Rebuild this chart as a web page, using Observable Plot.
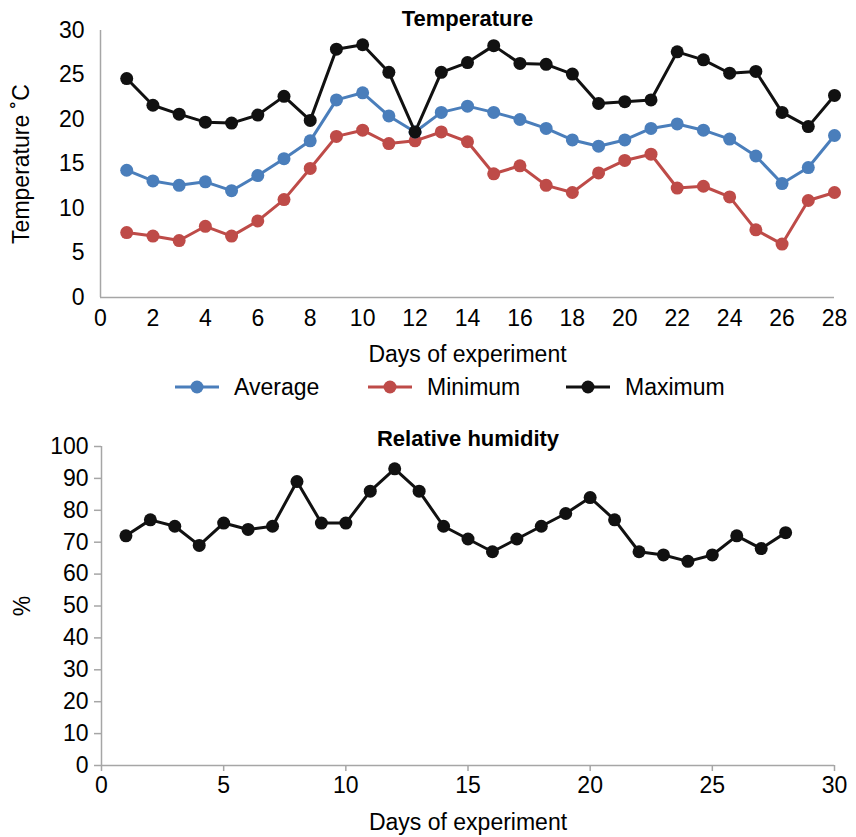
<!DOCTYPE html>
<html>
<head>
<meta charset="utf-8">
<script src="https://cdn.jsdelivr.net/npm/d3@7"></script>
<script src="https://cdn.jsdelivr.net/npm/@observablehq/plot@0.6"></script>
<style>
  html, body { margin: 0; padding: 0; background: #fff; }
  #root { position: relative; width: 856px; height: 837px; font-family: "Liberation Sans", Arial, sans-serif; }
  #topChart { position: absolute; left: 0; top: 0; }
  #legend { position: absolute; left: 0; top: 366px; width: 856px; height: 42px; }
  #bottomChart { position: absolute; left: 0; top: 410px; }
</style>
</head>
<body>
<div id="root">
  <div id="topChart"></div>
  <div id="legend"></div>
  <div id="bottomChart"></div>
</div>
<script>
// ---- data ----
const days = d3.range(1, 29);
const averageTemp = [14.3, 13.1, 12.6, 13.0, 12.0, 13.7, 15.6, 17.6, 22.2, 23.0, 20.4, 18.6, 20.8, 21.5,
                     20.8, 20.0, 19.0, 17.7, 17.0, 17.7, 19.0, 19.5, 18.8, 17.8, 15.9, 12.8, 14.6, 18.2];
const minimumTemp = [7.3, 6.9, 6.4, 8.0, 6.9, 8.6, 11.0, 14.5, 18.1, 18.8, 17.3, 17.6, 18.6, 17.5,
                     13.9, 14.8, 12.6, 11.8, 14.0, 15.4, 16.1, 12.3, 12.5, 11.3, 7.6, 6.0, 10.9, 11.8];
const maximumTemp = [24.6, 21.6, 20.6, 19.7, 19.6, 20.5, 22.6, 19.9, 27.9, 28.4, 25.3, 18.6, 25.3, 26.4,
                     28.3, 26.3, 26.2, 25.1, 21.8, 22.0, 22.2, 27.6, 26.7, 25.2, 25.4, 20.8, 19.2, 22.7];
const humidity = [72, 77, 75, 69, 76, 74, 75, 89, 76, 76, 86, 93, 86, 75,
                  71, 67, 71, 75, 79, 84, 77, 67, 66, 64, 66, 72, 68, 73];
const seriesNames = ["Average", "Minimum", "Maximum"];
const seriesColors = ["#4a7ebb", "#be4b48", "#111111"];
const tempTicks = [0, 5, 10, 15, 20, 25, 30];
const dayTicksTop = [0, 2, 4, 6, 8, 10, 12, 14, 16, 18, 20, 22, 24, 26, 28];
const humTicks = [0, 10, 20, 30, 40, 50, 60, 70, 80, 90, 100];
const dayTicksBottom = [0, 5, 10, 15, 20, 25, 30];

// ---- tables ----
const seriesValues = {Average: averageTemp, Minimum: minimumTemp, Maximum: maximumTemp};
const tempRows = name => days.map((d, i) => ({day: d, value: seriesValues[name][i], series: name}));
const humRows = days.map((d, i) => ({day: d, value: humidity[i]}));

const axisGray = "#a6a6a6";
const FS = 23;
const baseStyle = {fontFamily: "'Liberation Sans', Arial, sans-serif", fontSize: FS + "px", color: "#000", background: "#fff", overflow: "visible"};

// draw order: Minimum, Average, Maximum (black on top)
const drawOrder = ["Minimum", "Average", "Maximum"];
const seriesMarks = drawOrder.flatMap(name => [
  Plot.line(tempRows(name), {x: "day", y: "value", stroke: "series", strokeWidth: 3}),
  Plot.dot(tempRows(name), {x: "day", y: "value", fill: "series", r: 6.5, stroke: "none"})
]);

const tempChart = Plot.plot({
  width: 856, height: 366,
  marginTop: 30, marginBottom: 69, marginLeft: 100, marginRight: 22,
  style: baseStyle,
  x: {domain: [0, 28]},
  y: {domain: [0, 30]},
  color: {domain: seriesNames, range: seriesColors},
  marks: [
    Plot.axisX({ticks: dayTicksTop, tickSize: 0, tickPadding: 12, fontSize: FS,
                label: "Days of experiment", labelAnchor: "center", labelOffset: 64, labelArrow: "none"}),
    Plot.axisY({ticks: tempTicks, tickSize: 0, tickPadding: 16, fontSize: FS,
                label: "Temperature \u02DAC", labelAnchor: "center", labelOffset: 88, labelArrow: "none"}),
    Plot.ruleY([0], {stroke: axisGray, strokeWidth: 1.5}),
    Plot.ruleX([0], {stroke: axisGray, strokeWidth: 1.5}),
    ...seriesMarks,
    Plot.text(["Temperature"], {frameAnchor: "top", lineAnchor: "middle", dy: -12, fontWeight: "bold", fontSize: 22})
  ]
});
document.getElementById("topChart").appendChild(tempChart);

// ---- legend ----
const legend = d3.select("#legend").append("svg")
  .attr("width", 856).attr("height", 42)
  .style("font-family", "'Liberation Sans', Arial, sans-serif").style("font-size", FS + "px");
const legendX = [175, 368, 566];
seriesNames.forEach((name, i) => {
  const g = legend.append("g").attr("transform", `translate(${legendX[i]},21)`);
  g.append("line").attr("x1", 0).attr("x2", 44).attr("stroke", seriesColors[i]).attr("stroke-width", 3);
  g.append("circle").attr("cx", 22).attr("r", 6.5).attr("fill", seriesColors[i]);
  g.append("text").attr("x", 59).attr("dy", "0.35em").text(name);
});

// ---- humidity ----
const humChart = Plot.plot({
  width: 856, height: 427,
  marginTop: 36, marginBottom: 72, marginLeft: 101, marginRight: 22,
  style: baseStyle,
  x: {domain: [0, 30]},
  y: {domain: [0, 100]},
  marks: [
    Plot.axisX({ticks: dayTicksBottom, tickSize: 6, tickPadding: 5, stroke: axisGray, strokeWidth: 1.5, fontSize: FS,
                label: "Days of experiment", labelAnchor: "center", labelOffset: 64, labelArrow: "none"}),
    Plot.axisY({ticks: humTicks, tickSize: 7, tickPadding: 6, stroke: axisGray, strokeWidth: 1.5, fontSize: FS,
                label: "%", labelAnchor: "center", labelOffset: 88, labelArrow: "none"}),
    Plot.ruleY([0], {stroke: axisGray, strokeWidth: 1.5}),
    Plot.ruleX([0], {stroke: axisGray, strokeWidth: 1.5}),
    Plot.line(humRows, {x: "day", y: "value", stroke: "#111", strokeWidth: 3}),
    Plot.dot(humRows, {x: "day", y: "value", fill: "#111", r: 6.5}),
    Plot.text(["Relative humidity"], {frameAnchor: "top", lineAnchor: "middle", dy: -8, fontWeight: "bold", fontSize: 22})
  ]
});
document.getElementById("bottomChart").appendChild(humChart);
</script>
</body>
</html>
